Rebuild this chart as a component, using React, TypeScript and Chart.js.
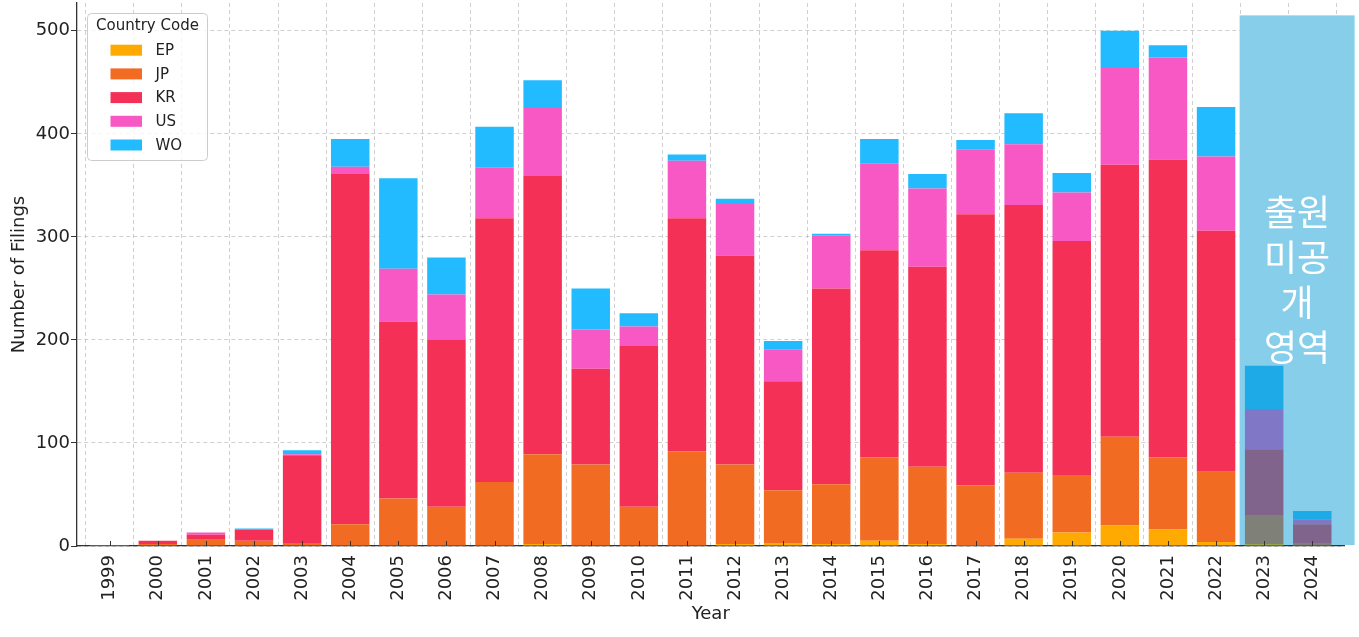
import { useEffect, useRef } from 'react';
import { Chart, registerables } from 'chart.js';

Chart.register(...registerables);

const years = ['1999', '2000', '2001', '2002', '2003', '2004', '2005', '2006', '2007', '2008', '2009', '2010', '2011', '2012', '2013', '2014', '2015', '2016', '2017', '2018', '2019', '2020', '2021', '2022', '2023', '2024'];
const seriesNames = ['EP', 'JP', 'KR', 'US', 'WO'];
const epValues = [0, 0, 0, 0, 0, 0, 0, 0, 0, 2, 0, 0, 0, 2, 3, 2, 5, 2, 1, 7, 13, 20, 16, 4, 2, 0];
const jpValues = [1, 2, 6, 5, 3, 21, 46, 38, 62, 87, 79, 38, 92, 77, 51, 58, 81, 75, 58, 64, 56, 86, 70, 68, 28, 3];
const krValues = [0, 3, 5, 11, 85, 340, 172, 162, 256, 270, 93, 156, 226, 203, 106, 190, 201, 194, 263, 260, 227, 264, 289, 234, 64, 18];
const usValues = [0, 0, 2, 0, 1, 7, 51, 44, 49, 67, 38, 19, 56, 51, 31, 51, 84, 76, 63, 59, 47, 94, 99, 72, 39, 5];
const woValues = [0, 0, 0, 1, 4, 27, 88, 36, 40, 26, 40, 13, 6, 4, 8, 2, 24, 14, 9, 30, 19, 36, 12, 48, 42, 8];
const seriesValues = [epValues, jpValues, krValues, usValues, woValues];
const baseColors = ['#FFAA00', '#F26B22', '#F53056', '#F858C4', '#22BBFF'];
const hiddenColors = ['#96A546', '#7F8078', '#80648C', '#8078C6', '#1EAAE6'];
const hiddenYears = ['2023', '2024'];
const overlayLines = ['출원', '미공', '개', '영역'];
const overlayTop = 515;
const yTickValues = [0, 100, 200, 300, 400, 500];
const yMax = 527;

const FONT = '"DejaVu Sans", sans-serif';

function overlayRect(chart: any) {
  const x = chart.scales.x, y = chart.scales.y;
  const step = x.getPixelForValue(1) - x.getPixelForValue(0);
  const i0 = years.indexOf(hiddenYears[0]);
  const i1 = years.indexOf(hiddenYears[hiddenYears.length - 1]);
  const left = x.getPixelForValue(i0) - 0.51 * step;
  const right = x.getPixelForValue(i1) + 0.88 * step;
  const top = y.getPixelForValue(overlayTop);
  const bottom = y.getPixelForValue(0) - 1;
  return { left, right, top, bottom };
}

const overlayPlugin = {
  id: 'hiddenZone',
  beforeDatasetsDraw(chart: any) {
    const { ctx } = chart;
    const r = overlayRect(chart);
    ctx.save();
    ctx.fillStyle = '#87CEEB';
    ctx.fillRect(r.left, r.top, r.right - r.left, r.bottom - r.top);
    ctx.restore();
  },
  afterDraw(chart: any) {
    const { ctx, scales, chartArea } = chart;
    const x = scales.x, y = scales.y;
    // inward x tick marks
    ctx.save();
    ctx.strokeStyle = '#333333';
    ctx.lineWidth = 1;
    const base = y.getPixelForValue(0);
    years.forEach((_, i) => {
      const px = Math.round(x.getPixelForValue(i)) + 0.5;
      ctx.beginPath();
      ctx.moveTo(px, base);
      ctx.lineTo(px, base - 5);
      ctx.stroke();
    });
    ctx.restore();

    // overlay text
    const r = overlayRect(chart);
    const cx = (r.left + r.right) / 2;
    const cy = (r.top + r.bottom) / 2;
    ctx.save();
    ctx.fillStyle = '#FFFFFF';
    ctx.font = '36px "Noto Sans CJK KR", sans-serif';
    ctx.textAlign = 'center';
    ctx.textBaseline = 'middle';
    const lh = 45;
    overlayLines.forEach((t, i) => {
      ctx.fillText(t, cx, cy + (i - (overlayLines.length - 1) / 2) * lh);
    });
    ctx.restore();

    // legend
    const bx = chartArea.left + 10.5;
    const by = chartArea.top + 10.5;
    const bw = 120;
    const bh = 147;
    ctx.save();
    ctx.beginPath();
    (ctx as any).roundRect(bx, by, bw, bh, 4);
    ctx.fillStyle = 'rgba(255,255,255,0.8)';
    ctx.fill();
    ctx.strokeStyle = '#CCCCCC';
    ctx.lineWidth = 1;
    ctx.stroke();
    ctx.fillStyle = '#222222';
    ctx.font = '15px ' + FONT;
    ctx.textAlign = 'center';
    ctx.textBaseline = 'middle';
    ctx.fillText('Country Code', bx + bw / 2, by + 13);
    chart.data.datasets.forEach((ds: any, i: number) => {
      const ry = by + 36.7 + i * 23.7;
      ctx.fillStyle = baseColors[i];
      ctx.fillRect(bx + 23, ry - 5.5, 31.5, 11);
      ctx.fillStyle = '#222222';
      ctx.textAlign = 'left';
      ctx.fillText(ds.label, bx + 68, ry + 1);
    });
    ctx.restore();
  },
};

export default function App() {
  const ref = useRef<HTMLCanvasElement>(null);
  useEffect(() => {
    if (!ref.current) return;
    const datasets = seriesNames.map((name, si) => ({
      label: name,
      data: seriesValues[si].map((v, i) => ({ x: i, y: v })),
      backgroundColor: years.map((yr) => (hiddenYears.includes(yr) ? hiddenColors[si] : baseColors[si])),
      borderWidth: 0,
      categoryPercentage: 1,
      barPercentage: 0.8,
    }));
    const chart = new Chart(ref.current, {
      type: 'bar',
      data: { datasets },
      options: {
        animation: false,
        responsive: false,
        devicePixelRatio: 1,
        layout: { padding: { top: 3, right: 14.5, left: 0, bottom: 0 } },
        plugins: { legend: { display: false }, tooltip: { enabled: false } },
        scales: {
          x: {
            type: 'linear',
            stacked: true,
            offset: false,
            min: -0.68,
            max: 25.67,
            z: 1,
            afterBuildTicks: (s: any) => {
              s.ticks = years.map((_, i) => ({ value: i }));
            },
            afterFit: (s: any) => {
              s.height = 91;
              s.paddingLeft = 0;
              s.paddingRight = 0;
            },
            grid: {
              color: 'rgba(176,176,176,0.6)',
              lineWidth: 1,
              drawTicks: false,
            },
            border: { display: true, color: '#333333', width: 1.3, dash: [4, 3] },
            ticks: {
              autoSkip: false,
              minRotation: 90,
              maxRotation: 90,
              padding: 9,
              color: '#222222',
              font: { family: FONT, size: 18 },
              callback: (v: any) => years[v] ?? '',
            },
            title: {
              display: true,
              text: 'Year',
              color: '#222222',
              font: { family: FONT, size: 18 },
              padding: { top: 0, bottom: 12 },
            },
          },
          y: {
            type: 'linear',
            stacked: true,
            min: 0,
            max: yMax,
            z: 1,
            afterBuildTicks: (s: any) => {
              s.ticks = yTickValues.map((v) => ({ value: v }));
            },
            afterFit: (s: any) => {
              s.width = 77;
              s.paddingTop = 0;
              s.paddingBottom = 0;
            },
            grid: {
              color: 'rgba(176,176,176,0.6)',
              lineWidth: 1,
              drawTicks: true,
              tickLength: 6,
              tickColor: '#333333',
              tickBorderDash: [],
            },
            border: { display: true, color: '#333333', width: 1.3, dash: [4, 3] },
            ticks: {
              padding: 1,
              color: '#222222',
              font: { family: FONT, size: 18 },
            },
            title: {
              display: true,
              text: 'Number of Filings',
              color: '#222222',
              font: { family: FONT, size: 18 },
              padding: { top: 9, bottom: 0 },
            },
          },
        },
      } as any,
      plugins: [overlayPlugin],
    });
    return () => chart.destroy();
  }, []);
  return (
    <div style={{ position: 'fixed', left: 0, top: 0, width: 1359, height: 637 }}>
      <canvas ref={ref} width={1359} height={637} style={{ display: 'block' }} />
    </div>
  );
}
